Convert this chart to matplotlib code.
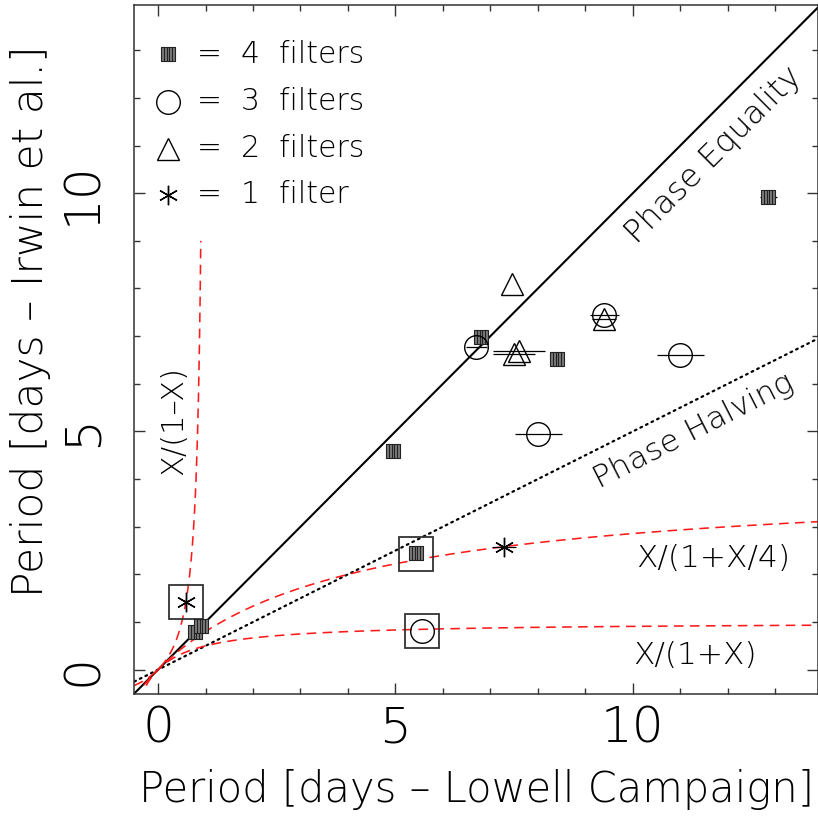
import numpy as np
import matplotlib
matplotlib.use("Agg")
import matplotlib.pyplot as plt
from matplotlib.path import Path

# ---------------- data ----------------
sq4_x = [12.85, 6.80, 8.41, 4.94, 5.44, 0.78, 0.90]
sq4_y = [9.93, 6.98, 6.53, 4.58, 2.45, 0.80, 0.92]
sq4_xerr = [0.18, 0.12, 0.15, 0.0, 0.0, 0.0, 0.0]

c3_x = [6.70, 9.40, 11.00, 8.01, 5.55]
c3_y = [6.77, 7.44, 6.60, 4.95, 0.82]
c3_xerr = [0.22, 0.30, 0.50, 0.50, 0.0]

t2_x = [7.45, 9.40, 7.50, 7.60]
t2_y = [8.10, 7.36, 6.62, 6.68]
t2_xerr = [0.0, 0.25, 0.45, 0.55]

s1_x = [7.29, 0.59]
s1_y = [2.57, 1.42]
s1_xerr = [0.25, 0.0]

box_x = [0.59, 5.44, 5.55]
box_y = [1.42, 2.43, 0.81]

legend_labels = ["=  4  filters", "=  3  filters", "=  2  filters", "=  1  filter"]
legend_y = [12.92, 11.92, 10.93, 9.97]

xticks = [0, 5, 10]
yticks = [0, 5, 10]

FONT = ["DejaVu Sans"]
plt.rcParams['font.family'] = FONT
W = "ultralight"

fig = plt.figure(figsize=(8.18, 8.19), dpi=100)
L, R, B, T = 134.3, 818.0, 693.5, 5.0
ax = fig.add_axes([L / 818, (819 - B) / 819, (R - L) / 818, (B - T) / 819])
ax.set_xlim(-0.5, 13.9)
ax.set_ylim(-0.5, 13.95)

# striped square marker
verts = [(-1, -1), (1, -1), (1, 1), (-1, 1), (-1, -1)]
codes = [Path.MOVETO, Path.LINETO, Path.LINETO, Path.LINETO, Path.CLOSEPOLY]
for xv in [-0.6, -0.2, 0.2, 0.6]:
    verts += [(xv, -1), (xv, 1)]
    codes += [Path.MOVETO, Path.LINETO]
striped = Path(verts, codes)

# reference lines
xx = np.linspace(-0.5, 13.9, 400)
ax.plot(xx, xx, color="black", lw=1.5)
ax.plot(xx, xx / 2, color="black", lw=1.6, linestyle=(0, (0.8, 2.0)), dash_capstyle="round")

RED = "#ff1a1a"
xa = np.linspace(-0.5, 0.9, 200)
ax.plot(xa, xa / (1 - xa), color=RED, lw=1.15, dashes=(6.0, 4.0))
xb = np.linspace(-0.3, 13.9, 400)
ax.plot(xb, xb / (1 + xb / 4), color=RED, lw=1.15, dashes=(6.0, 4.0))
xc = np.linspace(-0.25, 13.9, 400)
ax.plot(xc, xc / (1 + xc), color=RED, lw=1.15, dashes=(6.0, 4.0))

# boxes
ax.plot(box_x, box_y, ls="none", marker="s", ms=25, mfc="none", mec="#333333", mew=1.3)

# error bars
ax.errorbar(sq4_x, sq4_y, xerr=sq4_xerr, fmt="none", ecolor="black", elinewidth=0.9, capsize=0)
ax.errorbar(c3_x, c3_y, xerr=c3_xerr, fmt="none", ecolor="black", elinewidth=0.9, capsize=0)
ax.errorbar(t2_x, t2_y, xerr=t2_xerr, fmt="none", ecolor="black", elinewidth=0.9, capsize=0)
ax.errorbar(s1_x, s1_y, xerr=s1_xerr, fmt="none", ecolor="black", elinewidth=0.9, capsize=0)

# points
ax.plot(sq4_x, sq4_y, ls="none", marker=striped, ms=10, mfc="#7a7a7a", mec="#222222", mew=0.8)
ax.plot(c3_x, c3_y, ls="none", marker="o", ms=17, mfc="none", mec="black", mew=1.0)
ax.plot(t2_x, t2_y, ls="none", marker="^", ms=16, mfc="none", mec="black", mew=1.0)
ax.plot(s1_x, s1_y, ls="none", marker=(6, 2, 0), ms=14, mec="black", mew=1.0)

# legend (drawn manually)
leg_markers = [dict(marker=striped, ms=10, mfc="#7a7a7a", mec="#222222", mew=0.8),
               dict(marker="o", ms=17, mfc="none", mec="black", mew=1.0),
               dict(marker="^", ms=16, mfc="none", mec="black", mew=1.0),
               dict(marker=(6, 2, 0), ms=14, mec="black", mew=1.0)]
for yy, lab, mk in zip(legend_y, legend_labels, leg_markers):
    ax.plot([0.2], [yy], ls="none", **mk)
    ax.text(0.83, yy, lab, fontsize=21.5, va="center", ha="left", fontweight=W)

# annotations
ax.text(11.70, 10.80, "Phase Equality", fontsize=23, rotation=45, ha="center", va="center",
        rotation_mode="anchor", fontweight=W)
ax.text(11.29, 5.0, "Phase Halving", fontsize=22.5, rotation=27, ha="center", va="center",
        rotation_mode="anchor", fontweight=W)
ax.text(0.32, 5.22, "X/(1\u2013X)", fontsize=22, rotation=90, ha="center", va="center",
        fontweight=W)
ax.text(11.7, 2.33, "X/(1+X/4)", fontsize=22.5, ha="center", va="center", fontweight=W)
ax.text(11.3, 0.30, "X/(1+X)", fontsize=22.5, ha="center", va="center", fontweight=W)

# axes styling
for s in ax.spines.values():
    s.set_linewidth(1.1)
    s.set_color("#333333")
ax.set_xticks(xticks)
ax.set_yticks(yticks)
ax.set_xticks(np.arange(0, 14, 1), minor=True)
ax.set_yticks(np.arange(0, 14, 1), minor=True)
ax.tick_params(which="both", direction="in", top=True, right=True, color="#333333", width=1.0)
ax.tick_params(which="major", length=8)
ax.tick_params(which="minor", length=4.5)
ax.tick_params(axis="x", labelsize=36, pad=8)
ax.tick_params(axis="y", labelsize=36, pad=20, labelrotation=90)
for lbl in ax.get_xticklabels() + ax.get_yticklabels():
    lbl.set_fontweight(W)
for lbl in ax.get_yticklabels():
    lbl.set_va("center")

ax.set_xlabel("Period [days \u2013 Lowell Campaign]", fontsize=30, va="center", fontweight=W)
ax.xaxis.set_label_coords(0.5, -0.14)
ax.set_ylabel("Period [days \u2013 Irwin et al.]", fontsize=30.5, va="center", fontweight=W)
ax.yaxis.set_label_coords(-0.152, 0.54)

fig.savefig("out.png", dpi=100)
